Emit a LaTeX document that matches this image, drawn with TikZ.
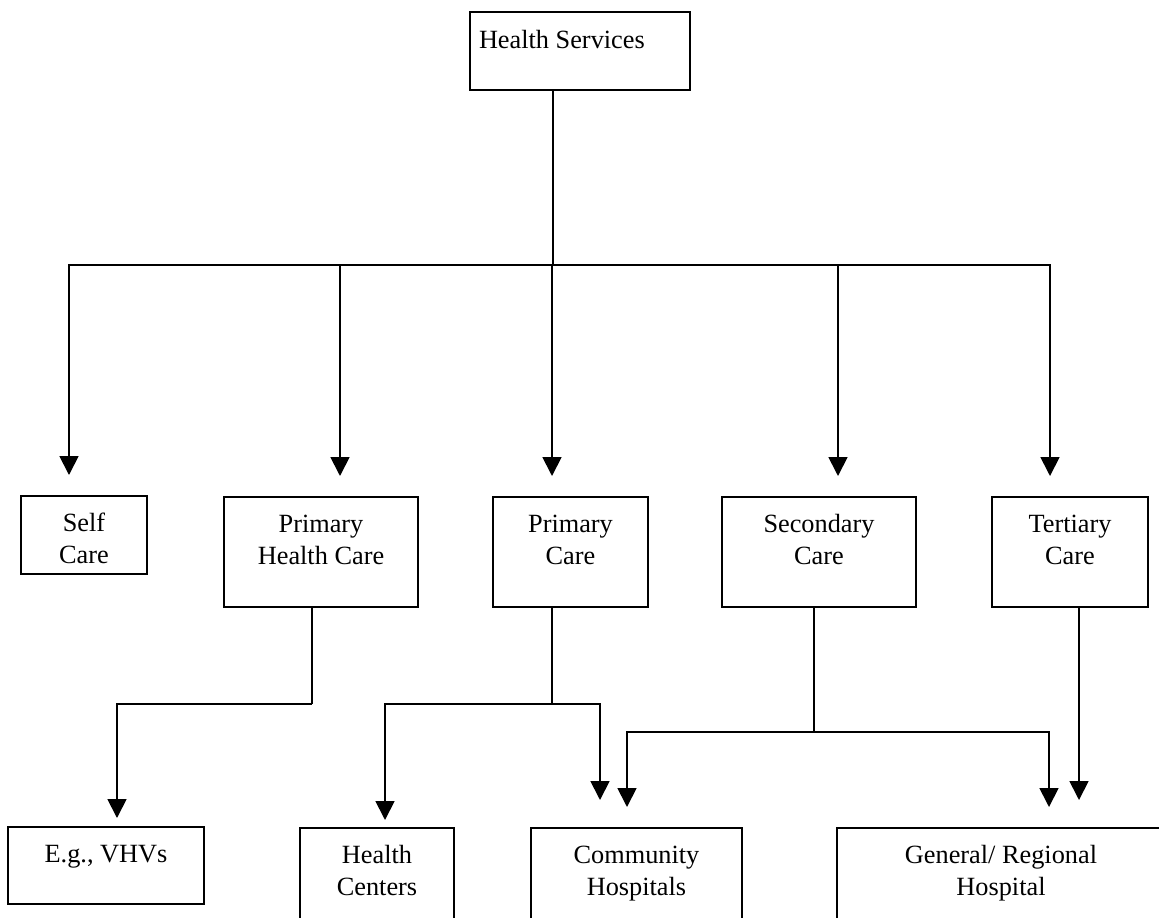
\documentclass[tikz,border=0pt]{standalone}
\usepackage{fontspec}
\setmainfont{Liberation Serif}
\usetikzlibrary{arrows.meta}
\newcommand{\bxt}[3]{\parbox[c][#2][t]{#1}{\centering\rule{0pt}{35pt}#3}}
\newcommand{\bxl}[3]{\parbox[c][#2][t]{#1}{\raggedright\hspace*{9pt}\rule{0pt}{36pt}#3}}
\tikzset{
  box/.style={draw, line width=2pt, inner sep=0pt, outer sep=0pt, font=\fontsize{26.3}{32}\selectfont},
  conn/.style={line width=1.8pt},
  arr/.style={conn, -{Triangle[length=19pt,width=19pt]}}
}
\begin{document}
\begin{tikzpicture}[x=1pt,y=-1pt]
\useasboundingbox (0,0) rectangle (1159,918);
\fill[white] (0,0) rectangle (1159,918);
\clip (0,0) rectangle (1159,918);
% nodes
\node[box] (hs)   at (580,51)    {\bxl{220pt}{78pt}{Health Services}};
\node[box] (self) at (84,535)    {\bxt{126pt}{78pt}{Self\\Care}};
\node[box] (phc)  at (321,552)   {\bxt{194pt}{110pt}{Primary\\Health Care}};
\node[box] (pc)   at (570.5,552) {\bxt{155pt}{110pt}{Primary\\Care}};
\node[box] (sc)   at (819,552)   {\bxt{194pt}{110pt}{Secondary\\Care}};
\node[box] (tc)   at (1070,552)  {\bxt{156pt}{110pt}{Tertiary\\Care}};
\node[box] (eg)   at (106,865.5) {\bxt{196pt}{77pt}{E.g., VHVs}};
\node[box] (hc)   at (377,904)   {\bxt{154pt}{152pt}{Health\\Centers}};
\node[box] (ch)   at (636.5,904) {\bxt{211pt}{152pt}{Community\\Hospitals}};
\node[box] (gr)   at (1001,904)  {\bxt{328pt}{152pt}{General/ Regional\\Hospital}};
% junctions
\coordinate (bus) at (553,265);
\coordinate (bl) at (312,704);
\coordinate (bm) at (552,704);
\coordinate (br) at (814,732);
% top level
\draw[conn] ([xshift=-27pt]hs.south) -- (bus);
\draw[arr, shorten >=21pt] (bus) -| ([xshift=-15pt]self.north);
\draw[arr, shorten >=21pt] (bus) -| ([xshift=19pt]phc.north);
\draw[arr, shorten >=21pt] (bus) -| ([xshift=-18.5pt]pc.north);
\draw[arr, shorten >=21pt] (bus) -| ([xshift=19pt]sc.north);
\draw[arr, shorten >=21pt] (bus) -| ([xshift=-20pt]tc.north);
% lower level
\draw[conn] ([xshift=-9pt]phc.south) -- (bl);
\draw[arr, shorten >=9pt] (bl) -| ([xshift=11pt]eg.north);
\draw[conn] ([xshift=-18.5pt]pc.south) -- (bm);
\draw[arr, shorten >=8pt] (bm) -| ([xshift=8pt]hc.north);
\draw[arr, shorten >=28pt] (bm) -| ([xshift=-36.5pt]ch.north);
\draw[conn] ([xshift=-5pt]sc.south) -- (br);
\draw[arr, shorten >=21pt] (br) -| ([xshift=-9.5pt]ch.north);
\draw[arr, shorten >=21pt] (br) -| ([xshift=48pt]gr.north);
\draw[arr, shorten >=28pt] ([xshift=9pt]tc.south) -- ([xshift=78pt]gr.north);
\end{tikzpicture}
\end{document}
